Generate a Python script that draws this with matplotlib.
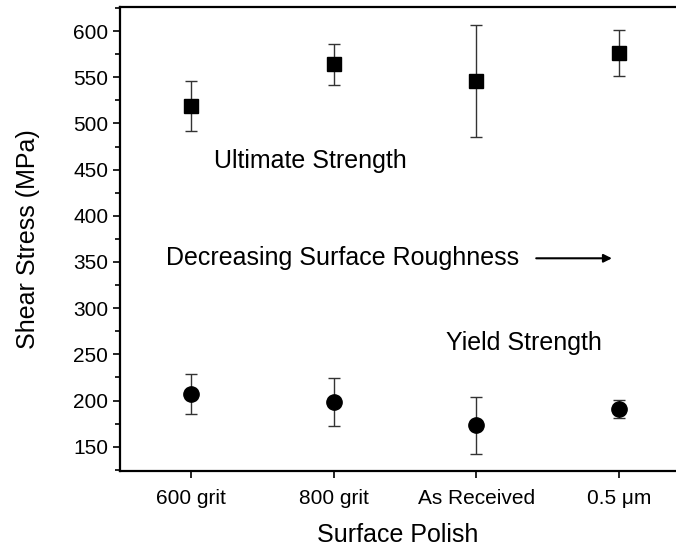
import matplotlib
matplotlib.use("Agg")
import matplotlib.pyplot as plt
from matplotlib.ticker import MultipleLocator

plt.rcParams['font.family'] = ['Liberation Sans', 'DejaVu Sans']

# data
polish = ['600 grit', '800 grit', 'As Received', '0.5 \u03bcm']
ultimate = [519, 564, 546, 576]
ultimate_err = [27, 22, 61, 25]
yield_str = [207, 198, 173, 191]
yield_err = [22, 26, 31, 10]

x = list(range(1, len(polish) + 1))

fig = plt.figure(figsize=(6.76, 5.47), dpi=100)
ax = fig.add_axes([0.1775, 0.1395, 0.8225, 0.8475])

ax.errorbar(x, ultimate, yerr=ultimate_err, fmt='s', color='black',
            ms=10, ecolor='#333333', elinewidth=1, capsize=4.5, capthick=1)
ax.errorbar(x, yield_str, yerr=yield_err, fmt='o', color='black',
            ms=11, ecolor='#333333', elinewidth=1, capsize=4.5, capthick=1)

ax.set_xlim(0.5, 4.4)
ax.set_ylim(124, 626)
ax.set_xticks(x)
ax.set_xticklabels(polish)
ax.yaxis.set_major_locator(MultipleLocator(50))
ax.yaxis.set_minor_locator(MultipleLocator(25))
ax.tick_params(axis='both', which='major', direction='out', length=5, width=1.2, labelsize=15)
ax.tick_params(axis='y', which='minor', direction='out', length=3.5, width=1.2)
ax.tick_params(axis='x', pad=8)

ax.spines['right'].set_visible(False)
for s in ['left', 'top', 'bottom']:
    ax.spines[s].set_linewidth(1.6)

ax.set_xlabel('Surface Polish', fontsize=18, labelpad=11)
ax.set_ylabel('Shear Stress (MPa)', fontsize=18, labelpad=24)

ax.text(1.16, 459, 'Ultimate Strength', fontsize=18, va='center')
ax.text(0.823, 354, 'Decreasing Surface Roughness', fontsize=18, va='center')
ax.text(2.79, 262, 'Yield Strength', fontsize=18, va='center')
ax.annotate('', xy=(3.97, 354), xytext=(3.40, 354),
            arrowprops=dict(arrowstyle='-|>', color='black', lw=1.5, mutation_scale=12))

fig.savefig('out.png', dpi=100)
